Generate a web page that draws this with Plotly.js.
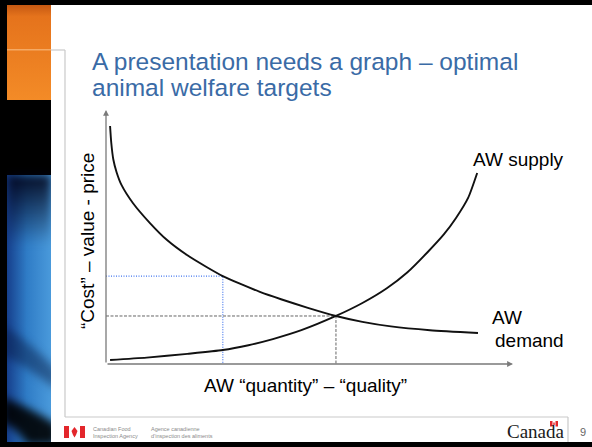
<!DOCTYPE html>
<html>
<head>
<meta charset="utf-8">
<script src="https://cdn.plot.ly/plotly-3.0.1.min.js"></script>
<style>html,body{margin:0;padding:0;background:#fff;}#chart{width:592px;height:447px;}</style>
</head>
<body>
<div id="chart"></div>
<script>
// ---- data (arbitrary units 0..10) ----
const demandQty  = [0.10, 0.13, 0.18, 0.26, 0.38, 0.66, 1.08, 1.50, 1.99, 2.48, 2.87, 3.29, 3.78, 4.30, 4.94, 5.65, 6.30, 7.00, 7.96, 9.14];
const demandCost = [9.37, 8.70, 8.05, 7.55, 7.05, 6.34, 5.55, 4.88, 4.29, 3.81, 3.46, 3.16, 2.84, 2.55, 2.22, 1.89, 1.66, 1.48, 1.33, 1.22];
const supplyQty  = [0.10, 1.00, 2.00, 2.87, 3.50, 4.10, 4.80, 5.65, 6.30, 6.90, 7.40, 7.90, 8.30, 8.60, 8.90, 9.12];
const supplyCost = [0.16, 0.25, 0.40, 0.55, 0.74, 0.98, 1.33, 1.89, 2.40, 2.98, 3.60, 4.40, 5.10, 5.75, 6.55, 7.52];
// guide points: [blue (sub-optimal target), equilibrium]
const guideQty  = [2.87, 5.65];
const guideCost = [3.46, 1.89];
const axisMax = [10, 10];

const titleLines = ['A presentation needs a graph \u2013 optimal', 'animal welfare targets'];
const xTitle = 'AW \u201cquantity\u201d \u2013 \u201cquality\u201d';
const yTitle = '\u201cCost\u201d \u2013 value - price';
const supplyLabel = 'AW supply';
const demandLabel = ['AW', 'demand'];

// ---- layout geometry (pixels) ----
const W = 592, H = 447, L = 106, R = 513, T = 110, B = 364;
const PW = R - L, PH = B - T;
const fx = p => (p - L) / PW;
const fy = p => (B - p) / PH;
const FONT = 'Liberation Sans, Arial, sans-serif';

function rect(x0, y0, x1, y1, color) {
  return {type: 'rect', xref: 'paper', yref: 'paper', x0: fx(x0), x1: fx(x1), y0: fy(y1), y1: fy(y0),
          fillcolor: color, line: {width: 0}, layer: 'below'};
}
function seg(x0, y0, x1, y1, color, w) {
  return {type: 'line', xref: 'paper', yref: 'paper', x0: fx(x0), y0: fy(y0), x1: fx(x1), y1: fy(y1),
          line: {color: color, width: w}, layer: 'below'};
}
function txt(text, x, y, size, o) {
  o = o || {};
  return Object.assign({text: text, xref: 'paper', yref: 'paper', x: fx(x), y: fy(y), showarrow: false,
          xanchor: 'center', yanchor: 'middle', borderpad: 0,
          font: {family: o.family || FONT, size: size, color: o.color || '#000'}}, o.extra || {});
}

// ---- side strip picture (decoration) ----
function stripImage() {
  const c = document.createElement('canvas'); c.width = 44; c.height = 437;
  const g = c.getContext('2d');
  const og = g.createLinearGradient(0, 0, 0, 95);
  og.addColorStop(0, '#C55812'); og.addColorStop(0.12, '#E5731C'); og.addColorStop(1, '#F38B27');
  g.fillStyle = og; g.fillRect(0, 0, 44, 95);
  g.fillStyle = 'rgba(255,215,170,0.5)'; g.fillRect(0, 44, 44, 1.5);
  g.fillStyle = '#000'; g.fillRect(0, 95, 44, 75);
  const bg = g.createLinearGradient(0, 0, 44, 0);
  bg.addColorStop(0, '#163F8C'); bg.addColorStop(0.45, '#2F7CC6'); bg.addColorStop(1, '#4A9ADB');
  g.fillStyle = bg; g.fillRect(0, 170, 44, 267);
  g.save();
  g.filter = 'blur(4px)';
  const vg = g.createLinearGradient(0, 170, 0, 240);
  vg.addColorStop(0, 'rgba(0,0,20,0.9)'); vg.addColorStop(1, 'rgba(0,0,20,0)');
  g.fillStyle = vg; g.fillRect(0, 170, 44, 70);
  g.fillStyle = 'rgba(5,20,60,0.45)';
  g.beginPath(); g.moveTo(-5, 320); g.quadraticCurveTo(20, 335, 50, 365); g.lineTo(50, 385); g.quadraticCurveTo(18, 360, -5, 350); g.fill();
  g.fillStyle = 'rgba(0,0,0,0.9)';
  g.beginPath(); g.moveTo(-5, 392); g.quadraticCurveTo(22, 402, 50, 420); g.lineTo(50, 440); g.lineTo(20, 440); g.quadraticCurveTo(10, 422, -5, 418); g.fill();
  g.restore();
  return c.toDataURL('image/png');
}

// ---- traces ----
const traces = [
  {x: [0, guideQty[0], guideQty[0]], y: [guideCost[0], guideCost[0], 0], mode: 'lines',
   line: {color: '#4477EE', width: 1.2, dash: '1px,1.5px'}, hoverinfo: 'skip'},
  {x: [0, guideQty[1], guideQty[1]], y: [guideCost[1], guideCost[1], 0], mode: 'lines',
   line: {color: '#666', width: 1, dash: '3px,1.5px'}, hoverinfo: 'skip'},
  {x: demandQty, y: demandCost, mode: 'lines', name: 'AW demand',
   line: {color: '#111', width: 1.9, shape: 'spline', smoothing: 0.6}},
  {x: supplyQty, y: supplyCost, mode: 'lines', name: 'AW supply',
   line: {color: '#111', width: 1.9, shape: 'spline', smoothing: 0.6}}
];

const shapes = [
  rect(0, 0, W, 5, '#000'),
  rect(0, 0, 7, H, '#000'),
  rect(0, 442, W, H, '#000'),
  seg(51, 50, 65, 50, '#C9C9C9', 1.2),
  seg(65, 50, 65, 417, '#C9C9C9', 1.2),
  seg(65, 417, 568, 417, '#C9C9C9', 1.2),
  seg(568, 417, 568, 442, '#C9C9C9', 1.2),
  // CFIA symbol
  rect(64, 426, 69, 438, '#E3262B'),
  rect(80, 426, 85, 438, '#E3262B'),
  {type: 'path', xref: 'paper', yref: 'paper', layer: 'above',
   path: 'M' + fx(74.5) + ',' + fy(427) + ' L' + fx(77.5) + ',' + fy(431) + ' L' + fx(76) + ',' + fy(435) +
         ' L' + fx(74.5) + ',' + fy(437.5) + ' L' + fx(73) + ',' + fy(435) + ' L' + fx(71.5) + ',' + fy(431) + ' Z',
   fillcolor: '#E3262B', line: {width: 0}},
  // small flag over the wordmark
  rect(550, 421, 552.5, 426.5, '#E3262B'),
  rect(555.5, 421, 558, 426.5, '#E3262B'),
  rect(553.3, 422.5, 554.7, 425, '#E3262B')
];

const annotations = [
  {x: axisMax[0], y: 0, ax: 0, ay: 0, xref: 'x', yref: 'y', axref: 'x', ayref: 'y', text: '', showarrow: true,
   arrowhead: 2, arrowsize: 0.9, arrowwidth: 1.3, arrowcolor: '#7A7A7A', standoff: 0, startstandoff: 0},
  {x: 0, y: axisMax[1], ax: 0, ay: 0, xref: 'x', yref: 'y', axref: 'x', ayref: 'y', text: '', showarrow: true,
   arrowhead: 2, arrowsize: 0.9, arrowwidth: 1.3, arrowcolor: '#7A7A7A', standoff: 0, startstandoff: 0},
  txt(titleLines[0], 91, 62, 24.5, {color: '#3A6BA6', extra: {xanchor: 'left'}}),
  txt(titleLines[1], 91, 88, 24.5, {color: '#3A6BA6', extra: {xanchor: 'left'}}),
  txt(xTitle, 305, 385, 19),
  txt(yTitle, 87, 241, 19, {extra: {textangle: -90}}),
  txt(supplyLabel, 518, 159, 19),
  txt(demandLabel[0], 491, 317, 19, {extra: {xanchor: 'left'}}),
  txt(demandLabel[1], 494, 340, 19, {extra: {xanchor: 'left'}}),
  txt('Canadian Food<br>Inspection Agency', 92, 432, 5.5, {color: '#8A8A8A', extra: {xanchor: 'left', align: 'left'}}),
  txt('Agence canadienne<br>d\u2019inspection des aliments', 150, 432, 5.5, {color: '#8A8A8A', extra: {xanchor: 'left', align: 'left'}}),
  txt('Canada', 536, 431, 19, {family: 'Liberation Serif, Times New Roman, serif', color: '#1A1A1A'}),
  txt('9', 583, 432, 11, {color: '#666'})
];

const layout = {
  width: W, height: H,
  margin: {l: L, r: W - R, t: T, b: H - B, pad: 0},
  paper_bgcolor: '#fff', plot_bgcolor: 'rgba(0,0,0,0)',
  showlegend: false,
  xaxis: {range: [0, axisMax[0]], showgrid: false, zeroline: false, showticklabels: false, showline: false, ticks: ''},
  yaxis: {range: [0, axisMax[1]], showgrid: false, zeroline: false, showticklabels: false, showline: false, ticks: ''},
  shapes: shapes,
  annotations: annotations,
  images: [{source: stripImage(), xref: 'paper', yref: 'paper', x: fx(7), y: fy(5), sizex: 44 / PW, sizey: 437 / PH,
            sizing: 'stretch', xanchor: 'left', yanchor: 'top', layer: 'below'}]
};

Plotly.newPlot('chart', traces, layout, {staticPlot: true, displayModeBar: false});
</script>
</body>
</html>
